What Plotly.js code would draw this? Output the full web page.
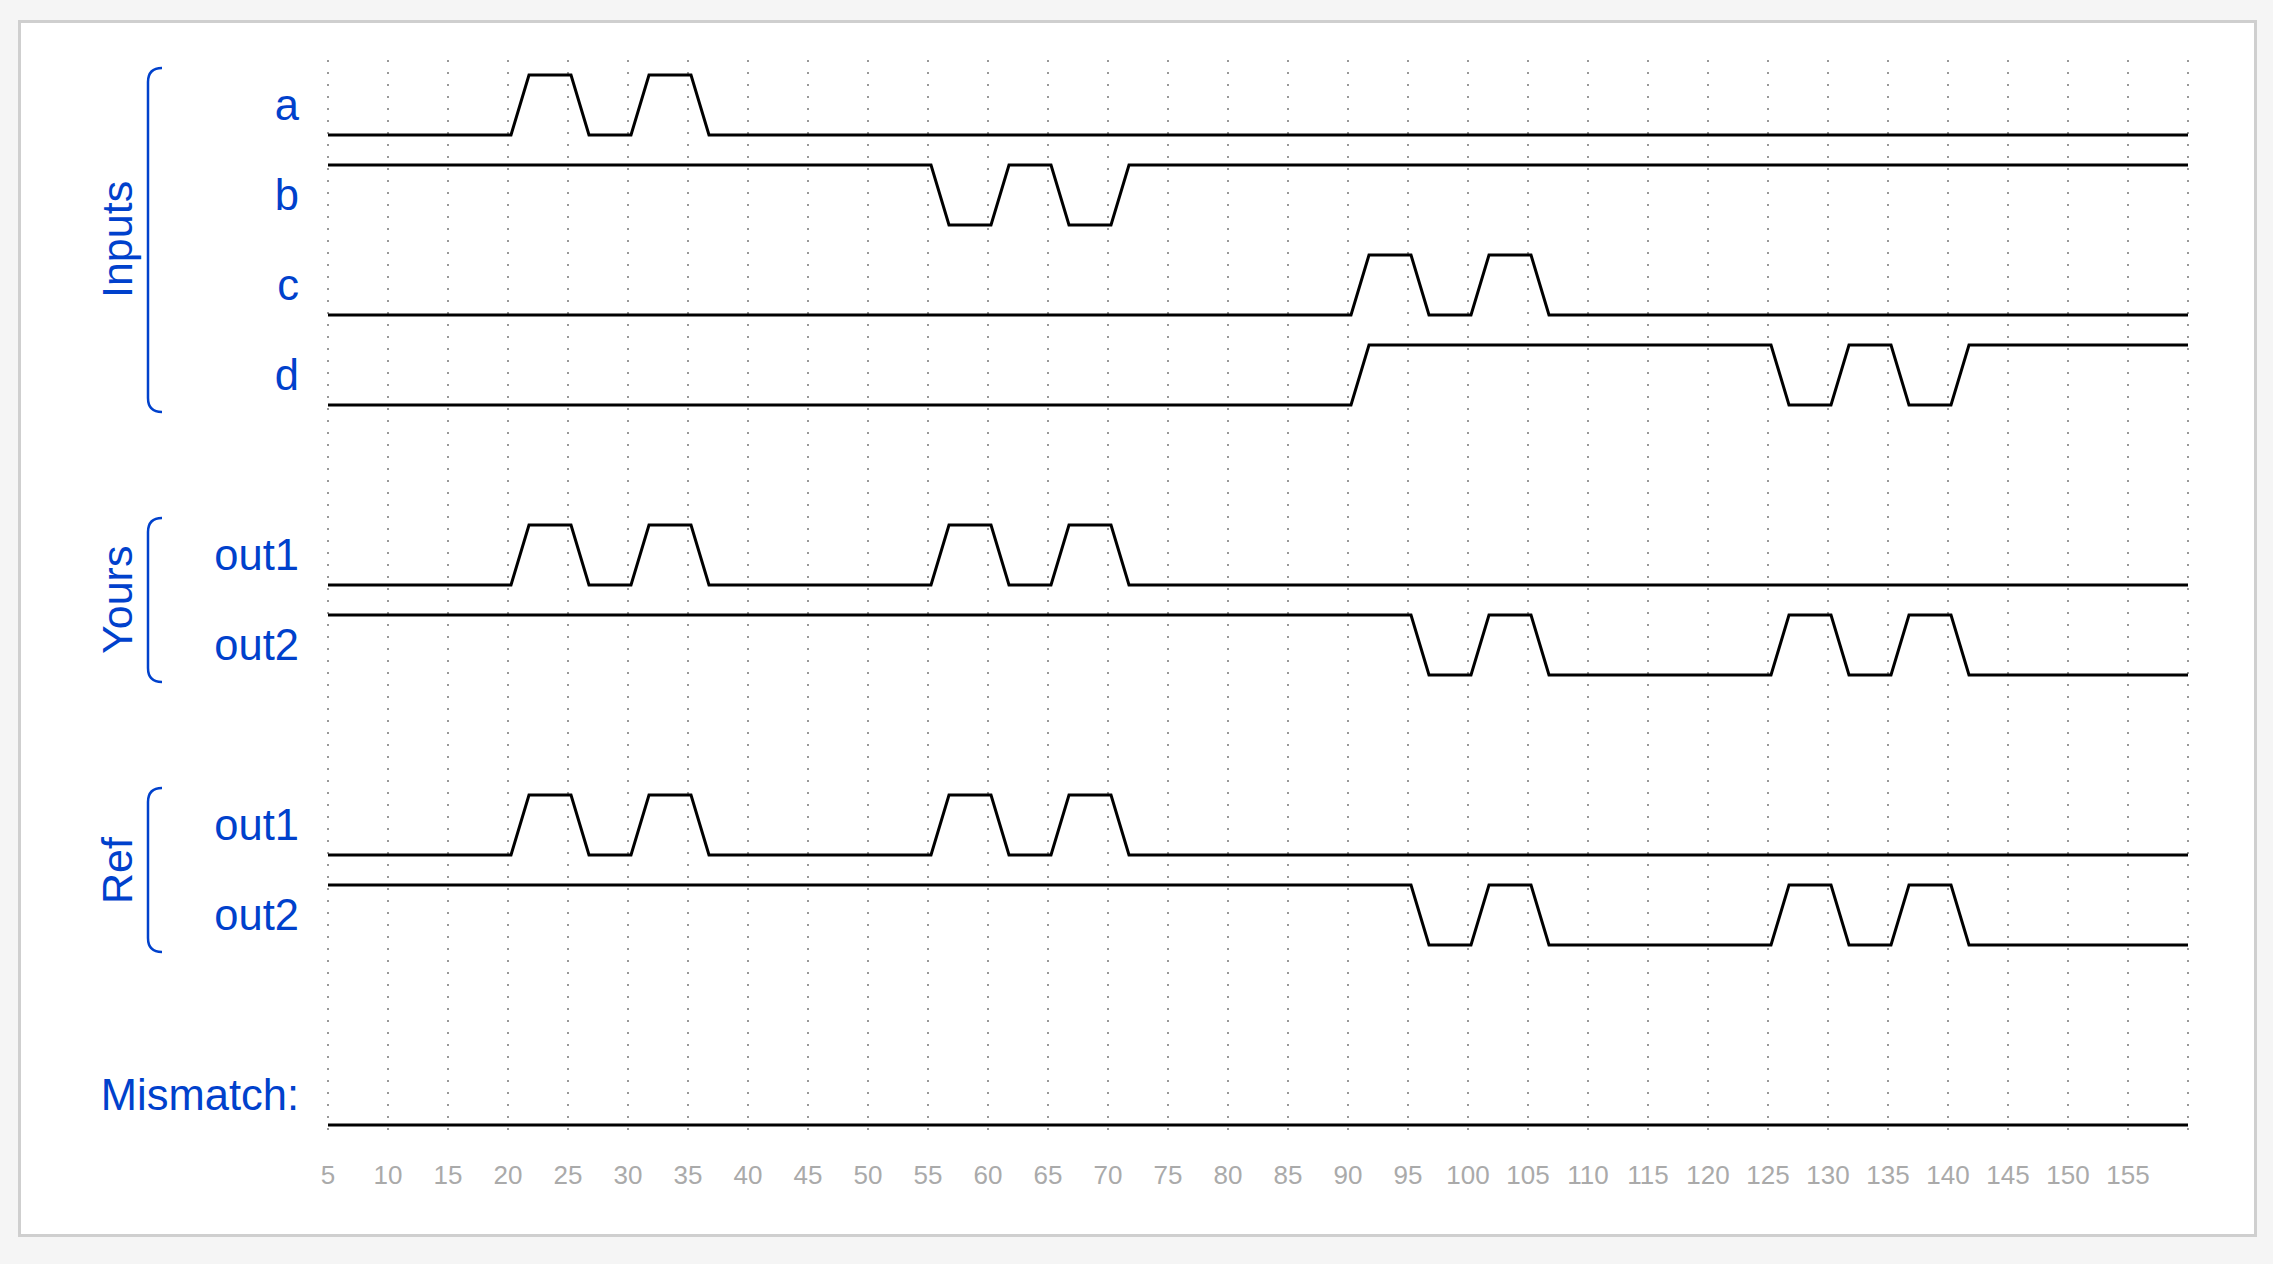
<!DOCTYPE html>
<html>
<head>
<meta charset="utf-8">
<script src="https://cdn.plot.ly/plotly-3.0.1.min.js"></script>
<style>
  html, body { margin: 0; padding: 0; background: #f5f5f5; width: 2273px; height: 1264px; overflow: hidden; }
  #card { position: absolute; left: 18px; top: 20px; width: 2233px; height: 1211px; background: #ffffff; border: 3px solid #cfcfcf; }
  #plot { position: absolute; left: 0; top: 0; width: 2273px; height: 1264px; }
</style>
</head>
<body>
<div id="card"></div>
<div id="plot"></div>
<script>
// ---------------- data ----------------
const timeStart = 5;
const timeEnd = 160;
const tickValues = [5, 10, 15, 20, 25, 30, 35, 40, 45, 50, 55, 60, 65, 70, 75, 80, 85, 90, 95, 100, 105, 110, 115, 120, 125, 130, 135, 140, 145, 150, 155, 160];
const tickLabels = ['5', '10', '15', '20', '25', '30', '35', '40', '45', '50', '55', '60', '65', '70', '75', '80', '85', '90', '95', '100', '105', '110', '115', '120', '125', '130', '135', '140', '145', '150', '155', ''];

const rowNames   = ['a', 'b', 'c', 'd', 'out1', 'out2', 'out1', 'out2', 'Mismatch:'];
const rowSlots   = [0, 1, 2, 3, 5, 6, 8, 9, 11];
const startLevel = [0, 1, 0, 0, 0, 1, 0, 1, 0];

const a_edges        = [20, 25, 30, 35];
const b_edges        = [55, 60, 65, 70];
const c_edges        = [90, 95, 100, 105];
const d_edges        = [90, 125, 130, 135, 140];
const yoursOut1_edges = [20, 25, 30, 35, 55, 60, 65, 70];
const yoursOut2_edges = [95, 100, 105, 125, 130, 135, 140];
const refOut1_edges   = [20, 25, 30, 35, 55, 60, 65, 70];
const refOut2_edges   = [95, 100, 105, 125, 130, 135, 140];
const mismatch_edges  = [];
const allEdges = [a_edges, b_edges, c_edges, d_edges, yoursOut1_edges, yoursOut2_edges, refOut1_edges, refOut2_edges, mismatch_edges];

const groupNames     = ['Inputs', 'Yours', 'Ref'];
const groupFirstSlot = [0, 5, 8];
const groupLastSlot  = [3, 6, 9];

// ---------------- style ----------------
const BLUE = '#0041cc';
const FONT = 'Liberation Sans, Arial, sans-serif';
const HIGH = 2 / 3;          // high level height in row units (row pitch = 90px)
const EDGE_DELAY = 0.25;     // transition starts slightly after the edge time
const SLEW = 1.5;            // transition duration
const ROW_PX = 90;
const M_L = 325, M_R = 82, M_T = 60, M_B = 134;
const W = 2273, H = 1264;
const plotW = W - M_L - M_R;
const pxToPaper = px => (px - M_L) / plotW;

function levelY(slot, lvl) { return -slot + lvl * HIGH; }

const traces = rowSlots.map((slot, k) => {
  let lvl = startLevel[k];
  const xs = [timeStart], ys = [levelY(slot, lvl)];
  allEdges[k].forEach(t => {
    xs.push(t + EDGE_DELAY); ys.push(levelY(slot, lvl));
    lvl = 1 - lvl;
    xs.push(t + EDGE_DELAY + SLEW); ys.push(levelY(slot, lvl));
  });
  xs.push(timeEnd); ys.push(levelY(slot, lvl));
  return {
    x: xs, y: ys, type: 'scatter', mode: 'lines',
    line: { color: '#000000', width: 3, shape: 'linear' },
    hoverinfo: 'skip', showlegend: false, cliponaxis: false
  };
});

// group braces and labels
const PAD = 7 / ROW_PX;
const R = 14 / ROW_PX;
const bx = pxToPaper(148), hx = pxToPaper(162);
const shapes = groupNames.map((g, i) => {
  const top = -groupFirstSlot[i] + HIGH + PAD;
  const bot = -groupLastSlot[i] - PAD;
  return {
    type: 'path', xref: 'paper', yref: 'y', layer: 'above',
    path: `M ${hx},${top} Q ${bx},${top} ${bx},${top - R} L ${bx},${bot + R} Q ${bx},${bot} ${hx},${bot}`,
    line: { color: BLUE, width: 2.5 }
  };
});
const annotations = groupNames.map((g, i) => ({
  text: g, xref: 'paper', yref: 'y',
  x: pxToPaper(117),
  y: ((-groupFirstSlot[i] + HIGH) + (-groupLastSlot[i])) / 2,
  textangle: -90, showarrow: false, xanchor: 'center', yanchor: 'middle',
  font: { family: FONT, size: 43, color: BLUE }
}));

const layout = {
  width: W, height: H,
  margin: { l: M_L, r: M_R, t: M_T, b: M_B, pad: 0 },
  paper_bgcolor: 'rgba(0,0,0,0)',
  plot_bgcolor: 'rgba(0,0,0,0)',
  showlegend: false,
  xaxis: {
    range: [timeStart - 0.25, timeEnd + 0.25],
    tickmode: 'array', tickvals: tickValues, ticktext: tickLabels,
    showgrid: true, gridcolor: '#999999', gridwidth: 1.2, griddash: '2px,10px',
    zeroline: false, showline: false, ticks: '', ticklabelstandoff: 27,
    tickfont: { family: FONT, size: 26, color: '#aaaaaa' }, fixedrange: true
  },
  yaxis: {
    range: [-11 - 5 / ROW_PX, 75 / ROW_PX],
    tickmode: 'array', tickvals: rowSlots.map(s => -s + HIGH / 2), ticktext: rowNames,
    showgrid: false, zeroline: false, showline: false, ticks: '', ticklabelstandoff: 25,
    tickfont: { family: FONT, size: 43.5, color: BLUE }, fixedrange: true
  },
  shapes: shapes,
  annotations: annotations
};

Plotly.newPlot('plot', traces, layout, { displayModeBar: false, staticPlot: true });
</script>
</body>
</html>
